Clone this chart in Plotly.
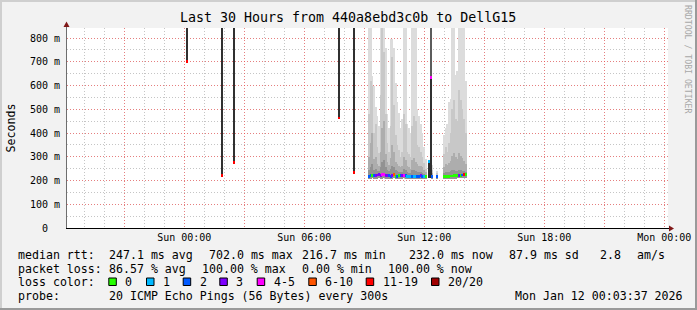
import plotly.graph_objects as go
import pandas as pd

DAY = "2026-01-11 "

# ---------------- data (milliseconds) ----------------
smoke_time = ["09:15", "09:20", "09:25", "09:30", "09:35", "09:40", "09:45", "09:50", "09:55", "10:00",
              "10:05", "10:10", "10:15", "10:20", "10:25", "10:30", "10:35", "10:40", "10:45", "10:50",
              "10:55", "11:00", "11:05", "11:10", "11:15", "11:20", "11:25", "11:30", "11:35", "11:40",
              "11:45", "11:50", "11:55", "12:00", "12:05",
              "12:25", "12:40",
              "13:00", "13:05", "13:10", "13:15", "13:20", "13:25", "13:30", "13:35", "13:40", "13:45",
              "13:50", "13:55", "14:00", "14:05"]
smoke_min = [208, 207, 209, 208, 207, 208, 209, 207, 208, 209,
             208, 207, 208, 207, 208, 209, 207, 208, 207, 208,
             208, 209, 207, 207, 206, 207, 208, 207, 206, 207,
             208, 207, 207, 206, 206,
             207, 207,
             206, 206, 207, 207, 207, 208, 208, 208, 209, 209,
             209, 210, 210, 210]
smoke_q1 = [245, 255, 270, 245, 250, 240, 238, 255, 280, 285,
            255, 245, 240, 248, 262, 255, 243, 240, 236, 234,
            236, 248, 244, 236, 232, 232, 244, 246, 240, 236,
            236, 236, 232, 228, 224,
            222, 218,
            232, 236, 234, 236, 240, 244, 246, 242, 240, 246,
            244, 240, 240, 236]
smoke_q2 = [300, 360, 400, 290, 300, 270, 262, 320, 420, 450,
            310, 280, 265, 295, 350, 320, 280, 270, 262, 255,
            262, 300, 285, 262, 255, 250, 285, 295, 280, 270,
            262, 262, 255, 245, 234,
            232, 224,
            255, 270, 265, 272, 282, 305, 315, 300, 290, 315,
            305, 295, 282, 270]
smoke_q3 = [480, 620, 600, 400, 440, 340, 315, 560, 1000, 740,
            480, 360, 320, 430, 720, 520, 390, 350, 330, 300,
            320, 480, 440, 320, 310, 300, 430, 470, 450, 350,
            340, 320, 300, 275, 250,
            245, 230,
            310, 340, 320, 360, 400, 500, 540, 460, 450, 580,
            540, 500, 460, 400]
smoke_max = [1000, 1000, 640, 600, 510, 470, 430, 1000, 1000, 1000,
             760, 480, 420, 796, 796, 760, 610, 530, 485, 420,
             460, 1000, 1000, 440, 420, 400, 1000, 1000, 1000, 500,
             470, 440, 400, 340, 290,
             265, 240,
             392, 420, 440, 530, 545, 1000, 1000, 645, 660, 1000,
             1000, 1000, 1000, 620]
smoke_median = [218, 220, 222, 220, 222, 223, 224, 222, 224, 224,
                222, 222, 220, 218, 220, 226, 218, 218, 220, 220,
                221, 222, 220, 218, 217, 217, 218, 218, 217, 218,
                218, 220, 218, 217, 217,
                217, 217,
                217, 217, 218, 218, 219, 219, 220, 221, 221, 222,
                222, 223, 224, 226]
smoke_loss = [2, 2, 0, 2, 3, 3, 3, 3, 5, 5,
              3, 3, 2, 2, 3, 8, 0, 2, 0, 2,
              3, 5, 2, 1, 1, 1, 2, 1, 1, 2,
              2, 3, 2, 1, 0,
              2, 2,
              0, 0, 0, 0, 0, 0, 0, 0, 0, 3,
              0, 2, 15, 0]

spike_time = ["00:10", "01:55", "02:30", "07:45", "08:30", "12:15", "12:20"]
spike_low = [702, 220, 275, 463, 233, 210, 210]
spike_high = [1000, 1000, 1000, 1000, 1000, 279, 634]
spike_median = [702, 220, 275, 463, 233, 279, 634]
spike_loss = [15, 15, 15, 15, 15, 1, 5]

upper_time = ["12:20"]
upper_low = [634]
upper_high = [1000]

loss_labels = ["0", "1", "2", "3", "4-5", "6-10", "11-19", "20/20"]
loss_colors = ["#26ff00", "#00b8ff", "#0059ff", "#7e00ff", "#ff00ff", "#ff5500", "#ff0000", "#a00000"]

y_ticks = [0, 100, 200, 300, 400, 500, 600, 700, 800]

title_text = "Last 30 Hours from 440a8ebd3c0b to DellG15"


def loss_color(n):
    if n == 0:
        return loss_colors[0]
    if n == 1:
        return loss_colors[1]
    if n == 2:
        return loss_colors[2]
    if n == 3:
        return loss_colors[3]
    if n <= 5:
        return loss_colors[4]
    if n <= 10:
        return loss_colors[5]
    if n <= 19:
        return loss_colors[6]
    return loss_colors[7]


# ---------------- geometry helpers (pixels -> paper) ----------------
W, H = 697, 310
L, R, T, B = 67, 668, 28, 228


def px(x):
    return (x - L) / (R - L)


def py(y):
    return (B - y) / (B - T)


STEP = 300000  # 5 minutes in ms
FONT = "DejaVu Sans Mono"

fig = go.Figure()
st = [DAY + t for t in smoke_time]
for top, col in [(smoke_max, "#DCDCDC"), (smoke_q3, "#C8C8C8"),
                 (smoke_q2, "#ADADAD"), (smoke_q1, "#929292")]:
    fig.add_trace(go.Bar(x=st, base=smoke_min, y=[a - b for a, b in zip(top, smoke_min)],
                         width=STEP, marker=dict(color=col, line=dict(width=0)),
                         hoverinfo="skip"))

spt = [DAY + t for t in spike_time]
fig.add_trace(go.Bar(x=spt, base=spike_low, y=[a - b for a, b in zip(spike_high, spike_low)],
                     width=STEP, marker=dict(color="#303030", line=dict(width=0)), hoverinfo="skip"))
upt = [DAY + t for t in upper_time]
fig.add_trace(go.Bar(x=upt, base=upper_low, y=[a - b for a, b in zip(upper_high, upper_low)],
                     width=STEP, marker=dict(color="#5C5C5C", line=dict(width=0)), hoverinfo="skip"))

MH = 11
for tt, med, loss in [(st, smoke_median, smoke_loss), (spt, spike_median, spike_loss)]:
    fig.add_trace(go.Bar(x=tt, base=[m - MH / 2 for m in med], y=[MH] * len(med), width=STEP,
                         marker=dict(color=[loss_color(n) for n in loss], line=dict(width=0)),
                         hoverinfo="skip"))

# time axis
t_sun = pd.Timestamp("2026-01-11 00:00:00")
x0 = t_sun - pd.Timedelta(minutes=3 * (184.3 - L))
x1 = x0 + pd.Timedelta(minutes=3 * (R - L))
major = pd.date_range("2026-01-10 21:00", "2026-01-12 00:00", freq="3h")
major_text = [d.strftime("%a %H:%M") if d.hour % 6 == 0 else "" for d in major]

RED = "rgba(255,70,70,0.55)"
GREY = "rgba(150,150,150,0.55)"
DASH = "1px,2px"

fig.update_layout(
    width=W, height=H,
    margin=dict(l=L, r=W - R, t=T, b=H - B, autoexpand=False),
    paper_bgcolor="#F2F2F2", plot_bgcolor="#FFFFFF",
    barmode="overlay", bargap=0, showlegend=False,
    font=dict(family=FONT, size=10, color="#000000"),
    xaxis=dict(type="date", range=[x0.strftime("%Y-%m-%d %H:%M:%S"), x1.strftime("%Y-%m-%d %H:%M:%S")],
               tickmode="array", tickvals=[d.strftime("%Y-%m-%d %H:%M:%S") for d in major], ticktext=major_text,
               showgrid=True, gridcolor=RED, griddash=DASH, gridwidth=1,
               minor=dict(dtick=3600000, tick0="2026-01-11 00:00", showgrid=True,
                          gridcolor=GREY, griddash=DASH, gridwidth=1),
               showline=False, zeroline=False, ticks="", ticklabelstandoff=2, automargin=False,
               tickfont=dict(family=FONT, size=10, color="#000")),
    yaxis=dict(range=[0, 842.1], tickmode="array", tickvals=y_ticks,
               ticktext=["0\u00a0\u00a0" if v == 0 else f"{v} m" for v in y_ticks],
               showgrid=True, gridcolor=RED, griddash=DASH, gridwidth=1,
               minor=dict(dtick=50, tick0=0, showgrid=True, gridcolor=GREY, griddash=DASH, gridwidth=1),
               showline=False, zeroline=False, ticks="", ticklabelstandoff=6, automargin=False,
               tickfont=dict(family=FONT, size=10, color="#000")),
)

shapes = []
# 3D border
shapes.append(dict(type="rect", xref="paper", yref="paper", x0=px(0), x1=px(W), y0=py(0), y1=py(2),
                   fillcolor="#CFCFCF", line=dict(width=0), layer="above"))
shapes.append(dict(type="rect", xref="paper", yref="paper", x0=px(0), x1=px(2), y0=py(0), y1=py(H),
                   fillcolor="#CFCFCF", line=dict(width=0), layer="above"))
shapes.append(dict(type="rect", xref="paper", yref="paper", x0=px(0), x1=px(W), y0=py(H - 2), y1=py(H),
                   fillcolor="#9A9A9A", line=dict(width=0), layer="above"))
shapes.append(dict(type="rect", xref="paper", yref="paper", x0=px(W - 2), x1=px(W), y0=py(0), y1=py(H),
                   fillcolor="#9A9A9A", line=dict(width=0), layer="above"))
# axes lines + arrows
shapes.append(dict(type="line", xref="paper", yref="paper", x0=px(66.5), x1=px(66.5), y0=py(228), y1=py(25),
                   line=dict(color="#6E6E6E", width=1), layer="above"))
shapes.append(dict(type="line", xref="paper", yref="paper", x0=px(66), x1=px(670), y0=py(228.5), y1=py(228.5),
                   line=dict(color="#000000", width=1), layer="above"))
shapes.append(dict(type="path", xref="paper", yref="paper",
                   path=f"M {px(66.5)},{py(21.5)} L {px(63.5)},{py(27)} L {px(69.5)},{py(27)} Z",
                   fillcolor="#801818", line=dict(width=0), layer="above"))
shapes.append(dict(type="path", xref="paper", yref="paper",
                   path=f"M {px(674)},{py(228.5)} L {px(669)},{py(225.5)} L {px(669)},{py(231.5)} Z",
                   fillcolor="#801818", line=dict(width=0), layer="above"))

ann = []


def text(x, y, s, size=11.6, anchor="left", color="#000", angle=0):
    ann.append(dict(xref="paper", yref="paper", x=px(x), y=py(y), text=s, showarrow=False,
                    xanchor=anchor, yanchor="middle", textangle=angle,
                    font=dict(family=FONT, size=size, color=color)))


text(347.5, 18, title_text, size=13.3, anchor="center")
text(10.5, 128, "Seconds", anchor="center", angle=-90)
text(688, 59, "RRDTOOL / TOBI OETIKER", size=8.2, anchor="center", color="#A8A8A8", angle=90)

legend_rows = [
    [(16, "median rtt:"), (107.3, "247.1 ms avg"), (207.3, "702.0 ms max"), (300, "216.7 ms min"),
     (407.3, "232.0 ms now"), (507.3, "87.9 ms sd"), (598.3, "2.8"), (635, "am/s")],
    [(16, "packet loss:"), (107.3, "86.57 % avg"), (200, "100.00 % max"), (300, "0.00 % min"),
     (386, "100.00 % now")],
    [(16, "loss color:")],
    [(16, "probe:"), (107.3, "20 ICMP Echo Pings (56 Bytes) every 300s"),
     (513.3, "Mon Jan 12 00:03:37 2026")],
]
row_y = [254.5, 268.5, 282, 296]
for yy, row in zip(row_y, legend_rows):
    for xx, s in row:
        text(xx, yy, s)

sq_x = [108.3, 146, 182.7, 219.3, 256.7, 308.3, 365.7, 431]
for xx, lab, col in zip(sq_x, loss_labels, loss_colors):
    shapes.append(dict(type="rect", xref="paper", yref="paper", x0=px(xx + 0.5), x1=px(xx + 8),
                       y0=py(278), y1=py(285.5), fillcolor=col,
                       line=dict(color="#000000", width=1), layer="above"))
    text(xx + 15, 282, lab)

fig.update_layout(shapes=shapes, annotations=ann)
fig.write_html("out.html")
